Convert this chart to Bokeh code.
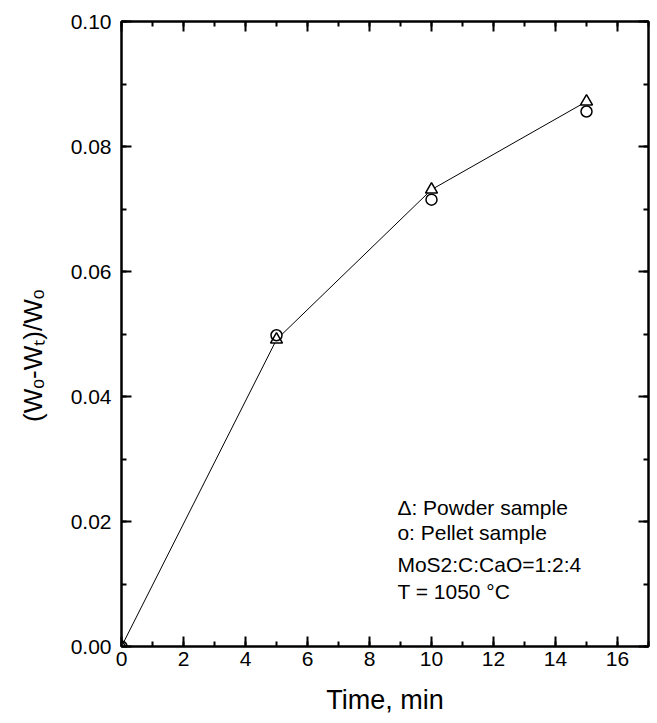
from bokeh.plotting import figure
from bokeh.models import (Range1d, LinearAxis, Label, SingleIntervalTicker, NumeralTickFormatter,
                          CustomJSTickFormatter, CustomLabelingPolicy)
from bokeh.embed import file_html
from bokeh.resources import INLINE

# ---- data ----
time_min = [0, 5, 10, 15]
powder = [0.0, 0.0491, 0.0731, 0.0872]
pellet = [0.0, 0.0498, 0.0715, 0.0856]

legend_lines = ["\u0394: Powder sample", "o: Pellet sample", "MoS2:C:CaO=1:2:4", "T = 1050 \u00b0C"]
legend_y = [0.0222, 0.0182, 0.0131, 0.0088]
x_label = "Time, min"
y_label = "(W\u2092-W\u209c)/W\u2092" + "\u00a0" * 6

FONT = "Liberation Sans"

p = figure(width=657, height=723, x_range=Range1d(0, 17), y_range=Range1d(0, 0.1),
           output_backend="svg", toolbar_location=None,
           min_border_left=121, min_border_right=9, min_border_top=21, min_border_bottom=77)
p.grid.visible = False
p.outline_line_color = "black"
p.outline_line_width = 2

p.xaxis.ticker = SingleIntervalTicker(interval=2, num_minor_ticks=2)
p.yaxis.ticker = SingleIntervalTicker(interval=0.02, num_minor_ticks=2)
p.yaxis.formatter = NumeralTickFormatter(format="0.00")

def style_axis(ax, standoff):
    ax.axis_line_width = 2
    ax.axis_line_color = "black"
    ax.major_tick_in = 10
    ax.major_tick_out = 0
    ax.minor_tick_in = 5
    ax.minor_tick_out = 0
    ax.major_tick_line_width = 2
    ax.minor_tick_line_width = 2
    ax.major_label_text_font = FONT
    ax.major_label_text_color = "black"
    ax.major_label_text_font_size = "21px"
    ax.major_label_standoff = standoff

for ax in p.xaxis:
    style_axis(ax, 5)
    ax.axis_label = x_label
    ax.axis_label_text_font = FONT
    ax.axis_label_text_font_size = "27px"
    ax.axis_label_text_font_style = "normal"
    ax.axis_label_text_color = "black"
    ax.axis_label_standoff = 16
for ax in p.yaxis:
    style_axis(ax, 10)
    ax.axis_label = y_label
    ax.axis_label_text_font = FONT
    ax.axis_label_text_font_size = "26px"
    ax.axis_label_text_font_style = "normal"
    ax.axis_label_text_color = "black"
    ax.axis_label_standoff = 20

no_labels = CustomLabelingPolicy(code="""
for (const i of Array.from(indices)) { indices.unset(i) }
return indices
""")
blank = CustomJSTickFormatter(code="return ''")
top = LinearAxis(ticker=SingleIntervalTicker(interval=2, num_minor_ticks=2), formatter=blank,
                 major_label_policy=no_labels)
right = LinearAxis(ticker=SingleIntervalTicker(interval=0.02, num_minor_ticks=2), formatter=blank,
                   major_label_policy=no_labels)
for ax in (top, right):
    style_axis(ax, 0)
    ax.major_label_text_font_size = "1px"
p.add_layout(top, "above")
p.add_layout(right, "right")

# connecting line (through powder points)
p.line(time_min, powder, line_color="black", line_width=1)
# white fills to make gaps in the line
p.scatter(time_min, pellet, marker="circle", size=11, fill_color="white", line_color=None)
p.scatter(time_min, powder, marker="triangle", size=12, fill_color="white", line_color=None)
# outlines
p.scatter(time_min, pellet, marker="circle", size=11, fill_color=None, line_color="black", line_width=1.5)
p.scatter(time_min, powder, marker="triangle", size=12, fill_color=None, line_color="black", line_width=1.5)

# annotation block
for txt, yy in zip(legend_lines, legend_y):
    p.add_layout(Label(x=8.9, y=yy, text=txt, text_font=FONT, text_font_size="21px",
                       text_color="black", text_baseline="alphabetic", text_align="left"))

open("out.html", "w").write(file_html(p, INLINE))
